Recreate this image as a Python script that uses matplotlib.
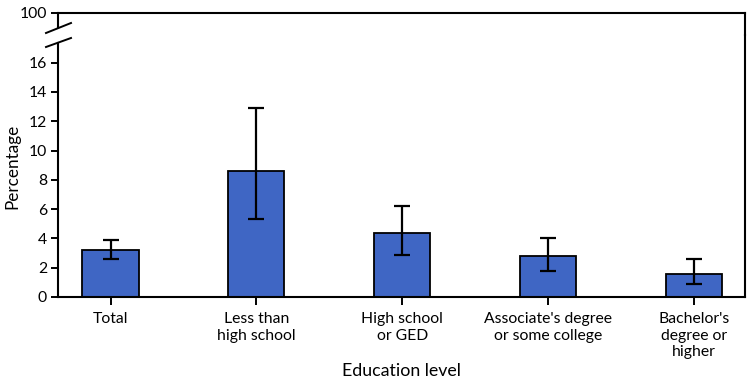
import matplotlib
matplotlib.use("Agg")
import matplotlib.pyplot as plt
from matplotlib.lines import Line2D

categories = ["Total", "Less than\nhigh school", "High school\nor GED",
              "Associate's degree\nor some college", "Bachelor's\ndegree or\nhigher"]
values = [3.2, 8.6, 4.4, 2.8, 1.6]
ci_low = [2.6, 5.3, 2.9, 1.8, 0.9]
ci_high = [3.9, 12.9, 6.2, 4.0, 2.6]
yticks = [0, 2, 4, 6, 8, 10, 12, 14, 16]

plt.rcParams['font.family'] = ['Lato', 'DejaVu Sans']

W, H = 750, 386
fig = plt.figure(figsize=(7.5, 3.86), dpi=100)

left = 58 / W
width = (745 - 58) / W
y0_px, ybreak_px, ytop_px = 297, 35, 13
ax = fig.add_axes([left, (H - y0_px) / H, width, (y0_px - ybreak_px) / H])
axt = fig.add_axes([left, (H - ybreak_px) / H, width, (ybreak_px - ytop_px) / H])

px_per_unit = 14.65
ax.set_ylim(0, (y0_px - ybreak_px) / px_per_unit)
x = list(range(len(categories)))
err = [[v - l for v, l in zip(values, ci_low)], [h - v for v, h in zip(values, ci_high)]]
ax.bar(x, values, width=0.385, color="#3F66C4", edgecolor="black", linewidth=1.3, zorder=2)
ax.errorbar(x, values, yerr=err, fmt="none", ecolor="black", elinewidth=1.6,
            capsize=5.5, capthick=1.6, zorder=3)
ax.set_xlim(-0.36, 4.35)
ax.set_yticks(yticks)
ax.set_xticks(x)
ax.set_xticklabels(categories, fontsize=11.3, linespacing=1.22)
ax.tick_params(axis='y', labelsize=11.3, length=5, width=1.4, direction='out', pad=3)
ax.tick_params(axis='x', length=6, width=1.4, direction='out', pad=5)
for s in ["left", "right", "bottom"]:
    ax.spines[s].set_linewidth(1.5)
ax.spines["top"].set_visible(False)
ax.spines["left"].set_bounds(0, (y0_px - 43) / px_per_unit)
ax.set_ylabel("Percentage", fontsize=12.3, labelpad=6)
ax.set_xlabel("Education level", fontsize=12.8, labelpad=3)

axt.set_ylim(96, 100)
axt.set_xlim(-0.36, 4.35)
axt.set_yticks([100])
axt.set_xticks([])
axt.tick_params(axis='y', labelsize=11.3, length=5, width=1.4, direction='out', pad=3)
axt.spines["bottom"].set_visible(False)
for s in ["left", "right", "top"]:
    axt.spines[s].set_linewidth(1.5)
axt.spines["left"].set_bounds(100 - 4 * (27 - ytop_px) / (ybreak_px - ytop_px), 100)
axt.patch.set_visible(False)

for (x1, y1, x2, y2) in [(46, 33, 71, 23), (46, 47, 71, 38)]:
    fig.add_artist(Line2D([x1 / W, x2 / W], [(H - y1) / H, (H - y2) / H],
                          transform=fig.transFigure, color="black", linewidth=1.4))

fig.savefig("out.png", dpi=100)
